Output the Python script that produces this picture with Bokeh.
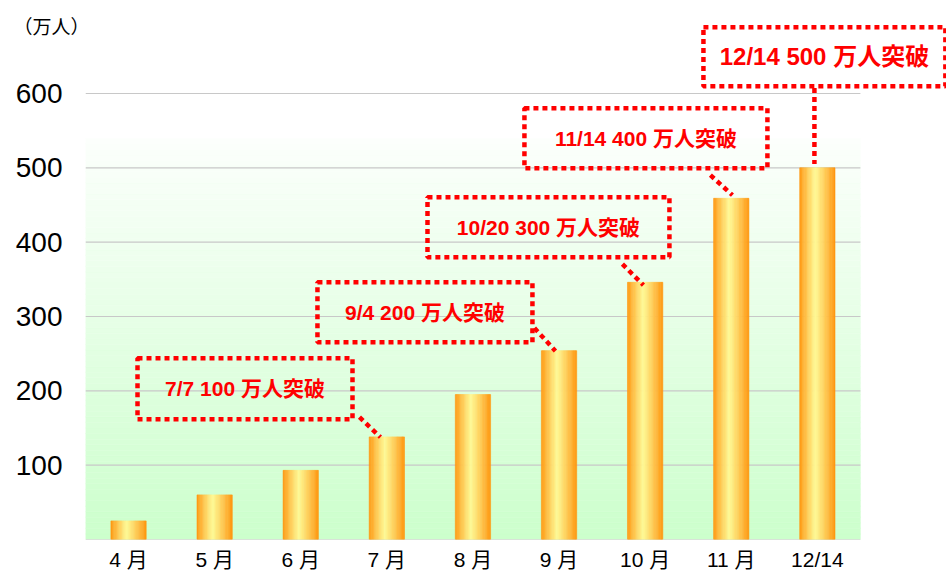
from bokeh.plotting import figure
from bokeh.models import Range1d, FixedTicker, Label, ColumnDataSource
from bokeh.embed import file_html
from bokeh.resources import INLINE
from bokeh.core.properties import value

# ---------------- data ----------------
months = ["4 月", "5 月", "6 月", "7 月", "8 月", "9 月", "10 月", "11 月", "12/14"]
visitors = [25, 60, 93, 138, 195, 254, 346, 459, 500]   # 万人
y_ticks = [100, 200, 300, 400, 500, 600]
grid_values = [0, 100, 200, 300, 400, 500, 600]
milestone_text = ["7/7 100 万人突破", "9/4 200 万人突破", "10/20 300 万人突破",
                  "11/14 400 万人突破", "12/14 500 万人突破"]
unit_label = "（万人）"

# ---------------- layout of callouts (data units) ----------------
box_left = [0.604, 2.694, 3.972, 5.098, 7.177]
box_right = [3.101, 5.191, 6.782, 7.920, 9.987]
box_top = [243.9, 346.2, 460.5, 580.2, 689.2]
box_bottom = [161.8, 265.4, 379.8, 499.5, 609.8]
box_font = ["21px", "21px", "21px", "21px", "24px"]
conn_x0 = [3.182, 5.214, 6.236, 7.258, 8.466]
conn_y0 = [164.5, 284.5, 370.4, 490.1, 607.4]
conn_x1 = [3.426, 5.458, 6.480, 7.514, 8.466]
conn_y1 = [137.6, 253.6, 342.1, 463.2, 505.2]

BAR_W = 0.41
N_SLICES = 28
ORANGE = (255, 148, 12)
YELLOW = (255, 250, 150)
BG_TOP = (252, 255, 252)
BG_BOTTOM = (204, 255, 204)
BG_HEIGHT = 540
N_BANDS = 72
FONT = "Liberation Sans, Noto Sans CJK JP"


def mix(a, b, f):
    return "#%02x%02x%02x" % tuple(int(round(a[i] + (b[i] - a[i]) * f)) for i in range(3))


def bar_color(t):
    f = t / 0.45 if t < 0.45 else (1 - t) / 0.55
    f = max(0.0, min(1.0, f)) ** 0.9
    return mix(ORANGE, YELLOW, f)


p = figure(width=946, height=573,
           x_range=Range1d(0, 10), y_range=Range1d(0, 692.8),
           output_backend="svg", toolbar_location=None,
           min_border_left=85, min_border_right=0, min_border_top=24, min_border_bottom=34,
           outline_line_color=None, background_fill_color="white", border_fill_color="white")
p.grid.visible = False

ncat = len(months)

# background gradient
bl, br, bb, bt, bc = [], [], [], [], []
for k in range(N_BANDS):
    bl.append(0)
    br.append(ncat)
    bb.append(BG_HEIGHT * k / N_BANDS)
    bt.append(BG_HEIGHT * (k + 1) / N_BANDS)
    bc.append(mix(BG_BOTTOM, BG_TOP, (k + 0.5) / N_BANDS))
p.quad(left=bl, right=br, bottom=bb, top=bt, fill_color=bc, line_color=bc, line_width=0.5)

# gridlines
p.segment(x0=[0] * len(grid_values), x1=[ncat] * len(grid_values),
          y0=grid_values, y1=grid_values, line_color="#c8c8c8", line_width=1.2)

# bars with horizontal gradient
xs, tops, cols = [], [], []
for i, v in enumerate(visitors):
    for k in range(N_SLICES):
        t = (k + 0.5) / N_SLICES
        xs.append(i + 0.5 - BAR_W / 2 + t * BAR_W)
        tops.append(v)
        cols.append(bar_color(t))
p.vbar(x=xs, top=tops, bottom=0, width=BAR_W / N_SLICES,
       fill_color=cols, line_color=cols, line_width=0.6)

# callout boxes
p.quad(left=box_left, right=box_right, bottom=box_bottom, top=box_top,
       fill_alpha=0, line_color="#ff0000", line_width=4.5, line_dash="5 4")
p.segment(x0=conn_x0, y0=conn_y0, x1=conn_x1, y1=conn_y1,
          line_color="#ff0000", line_width=4.5, line_dash="5 4")

src = ColumnDataSource(dict(
    x=[(a + b) / 2 for a, b in zip(box_left, box_right)],
    y=[(a + b) / 2 for a, b in zip(box_top, box_bottom)],
    text=milestone_text, size=box_font))
p.text(x="x", y="y", text="text", source=src, text_font=value(FONT),
       text_font_style="bold", text_font_size="size", text_color="#ff0000",
       text_align="center", text_baseline="middle")

# unit label in the top panel (not clipped by the frame)
p.add_layout(Label(x=-0.836, y=688.8, text=unit_label, text_font=FONT,
                   text_font_size="19px", text_color="#000000",
                   text_align="left", text_baseline="middle"), "above")

# axes
p.xaxis.ticker = FixedTicker(ticks=[i + 0.5 for i in range(ncat)])
p.xaxis.major_label_overrides = {i + 0.5: m for i, m in enumerate(months)}
p.xaxis.axis_line_color = None
p.xaxis.major_tick_line_color = None
p.xaxis.minor_tick_line_color = None
p.xaxis.major_label_standoff = 2
p.xaxis.major_label_text_font = FONT
p.xaxis.major_label_text_font_size = "21px"
p.xaxis.major_label_text_color = "#000000"

p.yaxis.ticker = FixedTicker(ticks=y_ticks)
p.yaxis.axis_line_color = None
p.yaxis.major_tick_line_color = None
p.yaxis.minor_tick_line_color = None
p.yaxis.major_label_standoff = 17
p.yaxis.major_label_text_font = "Liberation Sans"
p.yaxis.major_label_text_font_size = "28px"
p.yaxis.major_label_text_color = "#000000"

open("out.html", "w").write(file_html(p, INLINE))
